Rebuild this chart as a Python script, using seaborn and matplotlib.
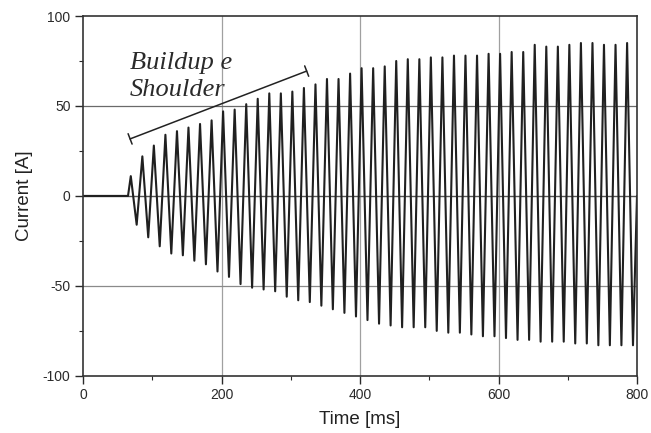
import numpy as np
import pandas as pd
import matplotlib
matplotlib.use("Agg")
import matplotlib.pyplot as plt
import seaborn as sns

# ---- data (ms, A) ----
onset_time = [0.0, 65.0]
onset_current = [0.0, 0.0]

pos_peak_time = [69.0, 85.7, 102.3, 119.0, 135.7, 152.3, 169.0, 185.7, 202.3, 219.0,
                 235.7, 252.3, 269.0, 285.7, 302.3, 319.0, 335.7, 352.3, 369.0, 385.7,
                 402.3, 419.0, 435.7, 452.3, 469.0, 485.7, 502.3, 519.0, 535.7, 552.3,
                 569.0, 585.7, 602.3, 619.0, 635.7, 652.3, 669.0, 685.7, 702.3, 719.0,
                 735.7, 752.3, 769.0, 785.7]
pos_peak = [11, 22, 28, 34, 36, 38, 40, 42, 47, 48,
            51, 54, 57, 57, 58, 60, 62, 65, 65, 68,
            71, 71, 72, 75, 76, 76, 77, 77, 78, 78,
            78, 79, 79, 80, 80, 84, 83, 83, 84, 85,
            85, 84, 84, 85]

neg_peak_time = [77.5, 94.2, 110.8, 127.5, 144.2, 160.8, 177.5, 194.2, 210.8, 227.5,
                 244.2, 260.8, 277.5, 294.2, 310.8, 327.5, 344.2, 360.8, 377.5, 394.2,
                 410.8, 427.5, 444.2, 460.8, 477.5, 494.2, 510.8, 527.5, 544.2, 560.8,
                 577.5, 594.2, 610.8, 627.5, 644.2, 660.8, 677.5, 694.2, 710.8, 727.5,
                 744.2, 760.8, 777.5, 794.2]
neg_peak = [-16, -23, -28, -32, -33, -36, -38, -42, -45, -49,
            -51, -52, -53, -56, -58, -59, -61, -63, -65, -67,
            -69, -71, -72, -73, -73, -73, -75, -76, -76, -77,
            -78, -78, -79, -80, -80, -81, -81, -81, -82, -82,
            -83, -83, -83, -83]

end_time = [800.0]
end_current = [0.0]

x_ticks = [0, 200, 400, 600, 800]
y_ticks = [-100, -50, 0, 50, 100]
x_label = "Time [ms]"
y_label = "Current [A]"
note_line1 = "Buildup e"
note_line2 = "Shoulder"
note_start = (68, 31.7)
note_end = (323, 69.4)

# ---- build the trace (alternate positive / negative peaks) ----
t = list(onset_time)
cur = list(onset_current)
for tp, p, tn, n in zip(pos_peak_time, pos_peak, neg_peak_time, neg_peak):
    t += [tp, tn]
    cur += [p, n]
t += end_time
cur += end_current
df = pd.DataFrame({"time": t, "current": cur})

sns.set_style("ticks")
plt.rcParams["font.family"] = ["Liberation Sans", "DejaVu Sans"]
plt.rcParams["axes.unicode_minus"] = False

fig = plt.figure(figsize=(6.51, 4.33), dpi=100)
ax = fig.add_axes([0.1275, 0.132, 0.851, 0.831])

for xv in [200, 400, 600]:
    ax.axvline(xv, color="#a0a0a0", lw=0.9, zorder=0)
ax.axhline(50, color="#6a6a6a", lw=0.9, zorder=0)
ax.axhline(0, color="#555555", lw=1.0, zorder=0)
ax.axhline(-50, color="#8a8a8a", lw=0.9, zorder=0)

sns.lineplot(data=df, x="time", y="current", sort=False, estimator=None,
             color="#202020", lw=1.5, ax=ax, zorder=2)

ax.set_xlim(0, 800)
ax.set_ylim(-100, 100)
ax.set_xticks(x_ticks)
ax.set_yticks(y_ticks)
ax.set_xticks([100, 300, 500, 700], minor=True)
ax.set_yticks([-75, -25, 25, 75], minor=True)
ax.tick_params(which="major", direction="out", length=6, width=1, pad=3,
               labelsize=10, colors="#2a2a2a")
ax.tick_params(which="minor", direction="out", length=3, width=0.8, colors="#2a2a2a")
ax.set_xlabel(x_label, fontsize=13.5, color="#222", labelpad=6)
ax.set_ylabel(y_label, fontsize=13.5, color="#222", labelpad=7)
for s in ax.spines.values():
    s.set_visible(True)
    s.set_color("#333")
    s.set_linewidth(1.2)

serif = ["Liberation Serif", "DejaVu Serif"]
ax.text(68, 70.5, note_line1, fontsize=19, style="italic", family=serif,
        color="#2a2a2a", ha="left", va="baseline")
ax.text(68, 55.5, note_line2, fontsize=19, style="italic", family=serif,
        color="#2a2a2a", ha="left", va="baseline")
ax.annotate("", xy=note_end, xytext=note_start,
            arrowprops=dict(arrowstyle="|-|", lw=1.1, color="#222",
                            mutation_scale=4, shrinkA=0, shrinkB=0))

fig.savefig("out.png", dpi=100)
